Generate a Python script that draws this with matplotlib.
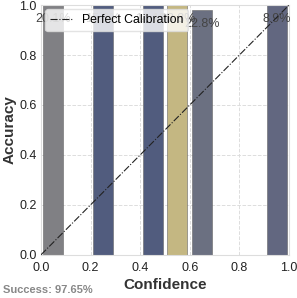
import matplotlib
matplotlib.use("Agg")
import matplotlib.pyplot as plt
import numpy as np

plt.rcParams['font.family'] = ['Liberation Sans', 'DejaVu Sans']

bin_centers = [0.05, 0.25, 0.45, 0.55, 0.65, 0.95]
accuracy = [1.0, 1.0, 1.0, 1.0, 0.98, 1.0]
proportions = ["20.1%", "15.3%", "14.1%", "18.8%", "22.8%", "8.9%"]
colors = ["#808084", "#515c7e", "#515c7e", "#c4b782", "#6b7081", "#626780"]

fig = plt.figure(figsize=(2.97, 2.98), dpi=100)
ax = fig.add_axes([0.138, 0.145, 0.835, 0.838])

ax.grid(True, linestyle="--", color="#dddddd", linewidth=0.7)
ax.set_axisbelow(True)
ax.bar(bin_centers, accuracy, width=0.08, color=colors, edgecolor="#666666", linewidth=0.4, zorder=2)
for x, h, p in zip(bin_centers, accuracy, proportions):
    ax.text(x, h - 0.055, p, ha="center", va="center", fontsize=9, color="#444444", zorder=3)
ax.plot([0, 1], [0, 1], linestyle="-.", color="#222222", linewidth=0.8, label="Perfect Calibration", zorder=4)

ax.set_xlim(0, 1)
ax.set_ylim(0, 1)
ax.set_xticks([0, 0.2, 0.4, 0.6, 0.8, 1.0])
ax.set_yticks([0, 0.2, 0.4, 0.6, 0.8, 1.0])
ax.tick_params(labelsize=9, length=0, colors="#222222")
ax.tick_params(axis="x", pad=5)
ax.tick_params(axis="y", pad=3)
ax.set_xlabel("Confidence", fontsize=11, fontweight="bold", color="#333333", labelpad=3)
ax.set_ylabel("Accuracy", fontsize=11, fontweight="bold", color="#333333", labelpad=2)
for s in ax.spines.values():
    s.set_color("#dddddd")
leg = ax.legend(loc="upper left", fontsize=8.8, frameon=True, borderpad=0.4, handlelength=1.8,
                bbox_to_anchor=(0.0, 1.0), borderaxespad=0.35)
leg.set_zorder(5)
leg.get_frame().set_edgecolor("#dddddd")

fig.text(0.01, 0.01, "Success: 97.65%", fontsize=8, fontweight="bold", color="#888888", ha="left", va="bottom")

fig.savefig("out.png", dpi=100)
